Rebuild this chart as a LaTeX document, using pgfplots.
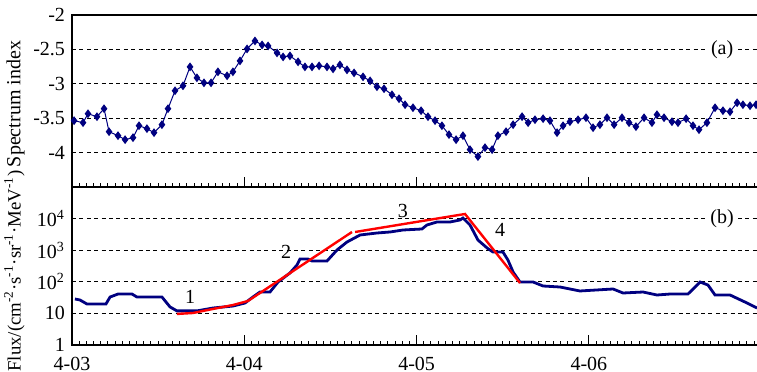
\documentclass[border=0pt]{standalone}
\usepackage{pgfplots}
\pgfplotsset{compat=1.18}
\usepackage{fontspec}
\setmainfont{Liberation Serif}
\definecolor{navyb}{RGB}{0,0,128}
\begin{document}
\fontsize{10}{12}\selectfont
\begin{tikzpicture}
\pgfplotsset{
  every axis/.append style={
    font=\fontsize{10}{12}\selectfont,
    scale only axis, width=344.6pt,
    xmin=0, xmax=4,
    xtick={0,1,2,3}, minor xtick={0,0.0416667,...,3.97},
    xtick pos=bottom, ytick pos=left,
    major tick length=5pt, minor tick length=1.75pt, tick align=inside,
    ytick style={draw=none}, yminorticks=false,
    ymajorgrids,
    major grid style={black, dash pattern=on 2pt off 1.7pt, line width=0.5pt},
    axis line style={line width=0.7pt},
    every tick/.style={black, line width=0.5pt},
    xticklabel style={yshift=-2.5pt},
  }
}
\begin{axis}[name=top, height=86pt,
  ymin=-4.5, ymax=-2,
  ytick={-4,-3.5,-3,-2.5,-2}, yticklabels={-4,-3.5,-3,-2.5,-2},
  xticklabels={},
  clip=false]
\addplot[navyb, line width=0.5pt, mark=diamond*, mark size=1.8pt, mark options={solid, fill=navyb}] coordinates {
(0.012,-3.536)(0.064,-3.565)(0.093,-3.435)(0.145,-3.478)(0.186,-3.362)(0.215,-3.696)(0.267,-3.754)(0.308,-3.812)(0.354,-3.783)(0.389,-3.609)(0.435,-3.652)(0.476,-3.710)(0.522,-3.594)(0.557,-3.362)(0.598,-3.101)(0.644,-3.029)(0.685,-2.754)(0.725,-2.913)(0.766,-2.986)(0.807,-2.986)(0.847,-2.826)(0.900,-2.884)(0.934,-2.826)(0.975,-2.667)(1.016,-2.493)(1.062,-2.377)(1.103,-2.435)(1.138,-2.449)(1.190,-2.551)(1.225,-2.609)(1.265,-2.594)(1.312,-2.681)(1.352,-2.754)(1.393,-2.754)(1.434,-2.739)(1.480,-2.754)(1.515,-2.783)(1.555,-2.725)(1.596,-2.797)(1.637,-2.841)(1.689,-2.899)(1.730,-2.957)(1.770,-3.043)(1.811,-3.072)(1.857,-3.159)(1.898,-3.217)(1.933,-3.304)(1.979,-3.348)(2.026,-3.391)(2.066,-3.478)(2.107,-3.536)(2.147,-3.609)(2.188,-3.739)(2.229,-3.812)(2.269,-3.754)(2.310,-3.957)(2.356,-4.058)(2.397,-3.928)(2.438,-3.957)(2.472,-3.754)(2.519,-3.696)(2.560,-3.594)(2.612,-3.478)(2.647,-3.565)(2.687,-3.522)(2.734,-3.507)(2.774,-3.536)(2.815,-3.710)(2.850,-3.609)(2.890,-3.551)(2.937,-3.522)(2.983,-3.493)(3.024,-3.638)(3.064,-3.594)(3.105,-3.493)(3.146,-3.594)(3.192,-3.493)(3.233,-3.565)(3.273,-3.623)(3.320,-3.493)(3.366,-3.565)(3.395,-3.449)(3.436,-3.493)(3.482,-3.551)(3.517,-3.565)(3.564,-3.507)(3.604,-3.609)(3.639,-3.667)(3.685,-3.565)(3.732,-3.348)(3.778,-3.391)(3.819,-3.406)(3.860,-3.275)(3.894,-3.304)(3.935,-3.319)(3.970,-3.304)
};
\node[fill=white, inner sep=1.5pt] at (axis cs:3.773,-2.5) {(a)};
\end{axis}
\begin{axis}[name=bottom, height=79pt, at={(top.south west)}, anchor=north west,
  ymode=log, ymin=1, ymax=1e5,
  ytick={1,10,100,1000,10000},
  yticklabels={1,10,10\textsuperscript{2},10\textsuperscript{3},10\textsuperscript{4}},
  xticklabels={4-03,4-04,4-05,4-06}]
\addplot[navyb, line width=1.4pt] coordinates {
(0.017,28.6)(0.046,26.6)(0.087,19.8)(0.197,19.8)(0.221,33)(0.267,41)(0.348,41)(0.377,33)(0.522,33)(0.569,16)(0.609,12)(0.725,12)(0.818,14.8)(0.934,17.1)(1.004,21.3)(1.050,33)(1.091,47.5)(1.149,47.5)(1.196,98.6)(1.265,190)(1.306,340)(1.323,527)(1.370,527)(1.393,455)(1.480,455)(1.538,1015)(1.596,1817)(1.672,3027)(1.770,3500)(1.846,3767)(1.921,4356)(2.031,4690)(2.060,6270)(2.118,7800)(2.194,7800)(2.252,9030)(2.269,10450)(2.310,6270)(2.356,2100)(2.409,1175)(2.443,877)(2.501,877)(2.530,490)(2.560,204)(2.600,98.6)(2.676,98.6)(2.734,73.6)(2.832,68.4)(2.948,51.2)(3.140,59.2)(3.198,44.2)(3.314,47.5)(3.395,38.2)(3.471,41)(3.575,41)(3.645,98.6)(3.691,79)(3.732,38.2)(3.819,38.2)(3.918,21.3)(3.976,14.8)
};
\addplot[red, line width=1.2pt] coordinates {
(0.609,9.6)(0.702,10.3)(0.818,13.8)(0.934,18.4)(1.021,24.7)(1.625,3767)
};
\addplot[red, line width=1.2pt] coordinates {
(1.643,3767)(2.281,14000)(2.600,91.6)
};
\node at (axis cs:0.685,33) {1};
\node at (axis cs:1.242,875) {2};
\node at (axis cs:1.921,17400) {3};
\node at (axis cs:2.484,4360) {4};
\node[fill=white, inner sep=1.5pt] at (axis cs:3.773,10000) {(b)};
\end{axis}
\node[rotate=90, anchor=south, inner sep=0pt] at ([xshift=-23.5pt, yshift=-1.5pt]top.west) {Spectrum index};
\node[rotate=90, anchor=south, inner sep=0pt, font=\fontsize{9.4}{11}\selectfont] at ([xshift=-23.5pt, yshift=-2.5pt]bottom.west) {Flux/(cm\textsuperscript{-2}·s\textsuperscript{-1}·sr\textsuperscript{-1}·MeV\textsuperscript{-1})};
\pgfresetboundingbox
\useasboundingbox ([shift={(-36pt,7.5pt)}]top.north west) rectangle ([shift={(-2.1pt,-13.5pt)}]bottom.south east);
\end{tikzpicture}
\end{document}
